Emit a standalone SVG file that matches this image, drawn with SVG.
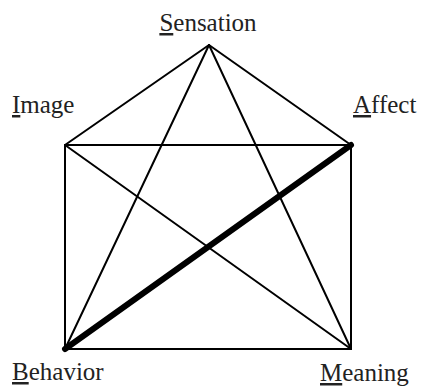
<svg xmlns="http://www.w3.org/2000/svg" width="421" height="387" viewBox="0 0 421 387">
<style>
.lbl{font-family:"Liberation Serif","Times New Roman",serif;font-size:25px;fill:#222}
.u{text-decoration:underline}
.thin{stroke:#000;stroke-width:2;fill:none;stroke-linecap:round;stroke-linejoin:miter}
.thick{stroke:#000;stroke-width:6;fill:none;stroke-linecap:round}
</style>
<rect width="421" height="387" fill="#fff"/>
<g id="connectors">
<rect class="thin" x="65" y="145" width="286" height="204"/>
<line class="thin" x1="209" y1="45" x2="65" y2="145"/>
<line class="thin" x1="209" y1="45" x2="351" y2="145"/>
<line class="thin" x1="209" y1="45" x2="65" y2="349"/>
<line class="thin" x1="209" y1="45" x2="351" y2="349"/>
<line class="thin" x1="65" y1="145" x2="351" y2="349"/>
<line class="thick" x1="351" y1="145" x2="65" y2="349"/>
</g>
<g id="sensation"><text class="lbl" x="208" y="31" text-anchor="middle"><tspan class="u">S</tspan>ensation</text></g>
<g id="image"><text class="lbl" x="12" y="113"><tspan class="u">I</tspan>mage</text></g>
<g id="affect"><text class="lbl" x="353" y="113"><tspan class="u">A</tspan>ffect</text></g>
<g id="behavior"><text class="lbl" x="12" y="380"><tspan class="u">B</tspan>ehavior</text></g>
<g id="meaning"><text class="lbl" x="320" y="381"><tspan class="u">M</tspan>eaning</text></g>
</svg>
